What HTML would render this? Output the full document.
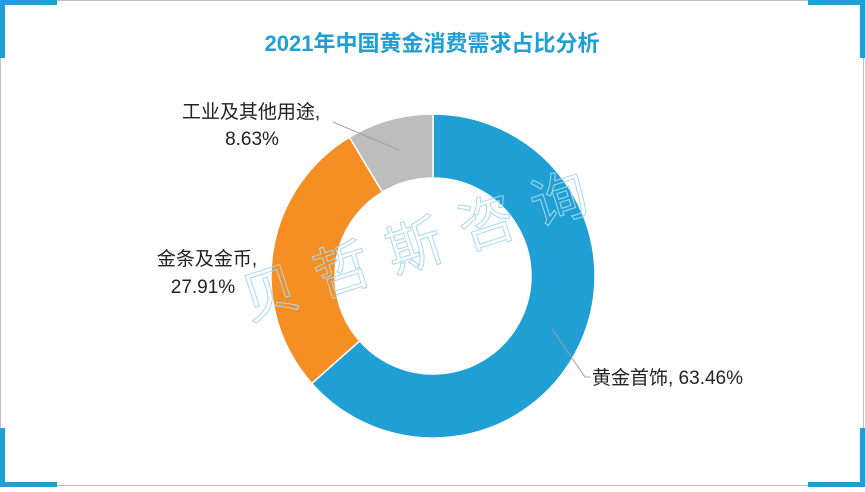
<!DOCTYPE html>
<html><head><meta charset="utf-8"><style>
body{margin:0;width:865px;height:487px;overflow:hidden;background:#fff;font-family:"Liberation Sans","Noto Sans CJK SC",sans-serif}
</style></head><body>
<svg width="865" height="487" xmlns="http://www.w3.org/2000/svg">
<rect x="0.5" y="0.5" width="863" height="485" fill="#fff" stroke="#c0c0c0"/>
<g fill="#1f9fd4">
<rect x="0" y="0" width="57" height="5"/><rect x="0" y="0" width="5" height="58"/>
<rect x="808" y="0" width="57" height="5"/><rect x="860" y="0" width="5" height="58"/>
<rect x="0" y="482" width="57" height="5"/><rect x="0" y="428" width="5" height="59"/>
<rect x="808" y="482" width="57" height="5"/><rect x="860" y="428" width="5" height="59"/>
</g>
<text x="432" y="51" text-anchor="middle" font-size="22" font-weight="bold" fill="#1f9fd4">2021年中国黄金消费需求占比分析</text>
<g id="pie"></g>
<text x="430" y="262" text-anchor="middle" font-size="56" fill="none" stroke="#a8d8f0" stroke-width="1" letter-spacing="20" transform="rotate(-18 430 262)">贝哲斯咨询</text>
<g font-size="19" fill="#222">
<text x="592" y="384">黄金首饰, 63.46%</text>
<text x="207" y="265" text-anchor="middle">金条及金币,</text>
<text x="203" y="293" text-anchor="middle">27.91%</text>
<text x="251" y="118" text-anchor="middle">工业及其他用途,</text>
<text x="252" y="145" text-anchor="middle">8.63%</text>
</g>
<g stroke="#a0a0a0" fill="none">
<polyline points="552,329 585,377 590,377"/>
<polyline points="333,122 399,150"/>
</g>
</svg>
<script>
const categories=["黄金首饰","金条及金币","工业及其他用途"];
const values=[63.46,27.91,8.63];
const colors=["#1f9fd4","#f68f23","#bdbdbd"];
const cx=433,cy=276,R=162,r=98;
const g=document.getElementById('pie');
const total=values.reduce((a,b)=>a+b,0);
let a0=0;
function pt(a,rad){return [cx+rad*Math.sin(a),cy-rad*Math.cos(a)];}
values.forEach((v,i)=>{
 const a1=a0+v/total*2*Math.PI;
 const [x1,y1]=pt(a0,R),[x2,y2]=pt(a1,R),[x3,y3]=pt(a1,r),[x4,y4]=pt(a0,r);
 const lg=(a1-a0)>Math.PI?1:0;
 const p=document.createElementNS('http://www.w3.org/2000/svg','path');
 p.setAttribute('d',`M${x1},${y1}A${R},${R} 0 ${lg} 1 ${x2},${y2}L${x3},${y3}A${r},${r} 0 ${lg} 0 ${x4},${y4}Z`);
 p.setAttribute('fill',colors[i]);p.setAttribute('stroke','#fff');p.setAttribute('stroke-width','1.5');
 
 
 g.appendChild(p);a0=a1;
});
</script>
</body></html>
